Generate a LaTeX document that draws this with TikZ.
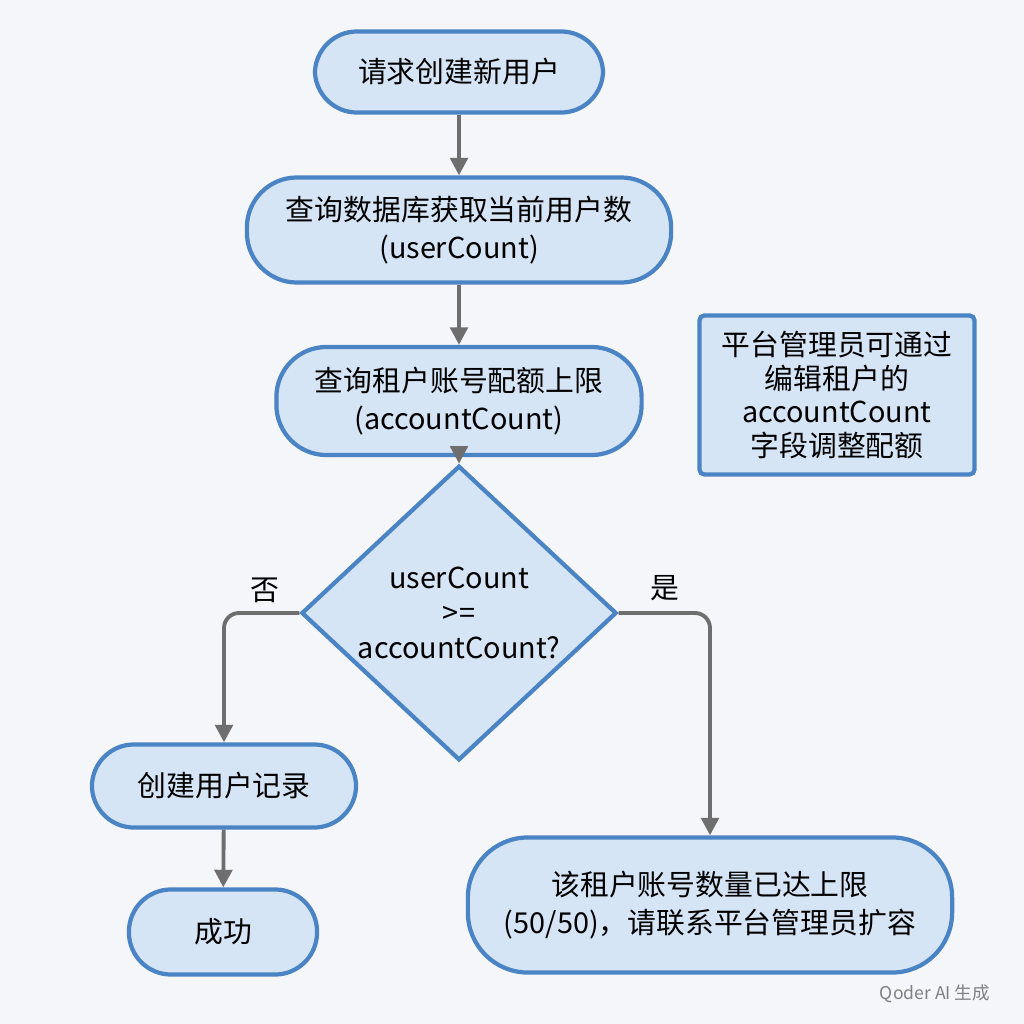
\documentclass[tikz,border=0pt]{standalone}
\usepackage{fontspec}
\setmainfont{Noto Sans CJK SC}
\usetikzlibrary{shapes.geometric,arrows.meta}
\definecolor{bg}{HTML}{F4F6F9}
\definecolor{fillb}{HTML}{D5E5F6}
\definecolor{edge}{HTML}{4A84C4}
\definecolor{arr}{HTML}{6E6E6E}
\begin{document}
\begin{tikzpicture}[x=0.01cm,y=-0.01cm,
  box/.style={draw=edge,fill=fillb,line width=1.2pt,rounded corners=0.4cm,align=center,font=\fontsize{8.2pt}{11pt}\selectfont},
  pill/.style={box,rounded corners=0.42cm},
  ar/.style={draw=arr,line width=1.1pt,-{Triangle[length=5pt,width=5pt]},rounded corners=0.15cm}]
\fill[bg] (0,0) rectangle (1024,1024);
\useasboundingbox (0,0) rectangle (1024,1024);
\node[pill,minimum width=2.88cm,minimum height=0.81cm] (n1) at (459,72) {请求创建新用户};
\node[pill,minimum width=4.24cm,minimum height=1.05cm,rounded corners=0.5cm] (n2) at (459,230) {查询数据库获取当前用户数\\(userCount)};
\node[pill,minimum width=3.65cm,minimum height=1.08cm,rounded corners=0.5cm] (n3) at (459,401) {查询租户账号配额上限\\(accountCount)};
\node[diamond,draw=edge,fill=fillb,line width=1.2pt,minimum width=3.15cm,minimum height=1.87cm,inner sep=0pt,align=center,font=\fontsize{8.2pt}{10pt}\selectfont] (d) at (459,613) {userCount\\>=\\accountCount?};
\node[pill,minimum width=2.64cm,minimum height=0.83cm] (n4) at (224,786) {创建用户记录};
\node[pill,minimum width=1.88cm,minimum height=0.85cm] (n5) at (223,932) {成功};
\node[pill,minimum width=4.84cm,minimum height=1.35cm,rounded corners=0.6cm] (n6) at (710,905) {该租户账号数量已达上限\\(50/50)，请联系平台管理员扩容};
\node[draw=edge,fill=fillb,line width=1.2pt,rounded corners=0.05cm,minimum width=2.75cm,minimum height=1.59cm,align=center,font=\fontsize{8.2pt}{9.5pt}\selectfont] (note) at (837,395) {平台管理员可通过\\编辑租户的\\accountCount\\字段调整配额};
\draw[ar] (n1) -- (n2);
\draw[ar] (n2) -- (n3);
\draw[ar] (n3) -- (d);
\draw[ar] (d.west) -| (n4.north);
\draw[ar] (d.east) -| (n6.north);
\draw[ar] (n4) -- (n5);
\node[font=\fontsize{8.2pt}{10pt}\selectfont] (no) at (265,590) {否};
\node[font=\fontsize{8.2pt}{10pt}\selectfont] (yes) at (665,588) {是};
\node[text=gray,font=\fontsize{5pt}{6pt}\selectfont] (wm) at (935,994) {Qoder AI 生成};
\end{tikzpicture}
\end{document}
